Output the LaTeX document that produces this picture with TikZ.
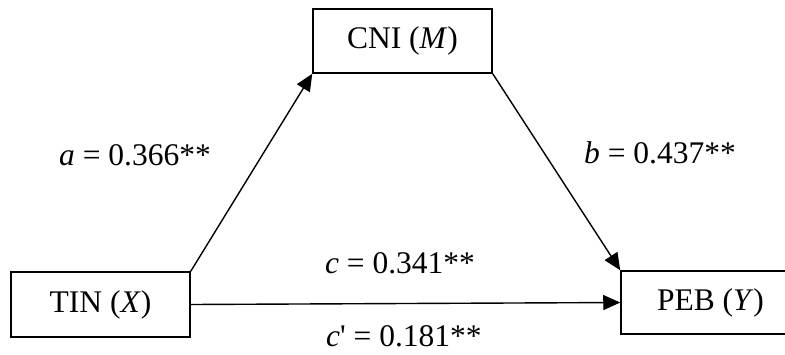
\documentclass[tikz,border=0pt]{standalone}
\usepackage{fontspec}
\setmainfont{Liberation Serif}
\usetikzlibrary{arrows.meta}
\begin{document}
\begin{tikzpicture}[x=1pt,y=-1pt,
  varbox/.style={draw=black,line width=1.5pt,minimum width=179pt,minimum height=64pt,inner sep=0pt,font=\fontsize{31.5}{37}\selectfont},
  lbl/.style={inner sep=0pt,font=\fontsize{31.5}{37}\selectfont},
  conn/.style={line width=1.4pt,-{Triangle[length=17pt,width=15pt]}}]
\useasboundingbox[fill=white] (0,0) rectangle (785,354);
\node[varbox] (cni) at (402.5,41) {CNI (\textit{M})};
\node[varbox,minimum height=65pt] (tin) at (100.5,304.5) {TIN (\textit{X})};
\node[varbox,minimum height=63pt] (peb) at (710.5,302.5) {PEB (\textit{Y})};
\draw[conn] (tin.north east) -- (cni.south west);
\draw[conn] (cni.south east) -- (peb.north west);
\draw[conn] (tin.east) -- (peb.west);
\node[lbl] (la) at (135,155) {\textit{a} = 0.366**};
\node[lbl] (lb) at (660,153) {\textit{b} = 0.437**};
\node[lbl] (lc) at (400,263) {\textit{c} = 0.341**};
\node[lbl] (lcp) at (404,336) {\textit{c}\textquotesingle{} = 0.181**};
\end{tikzpicture}
\end{document}
